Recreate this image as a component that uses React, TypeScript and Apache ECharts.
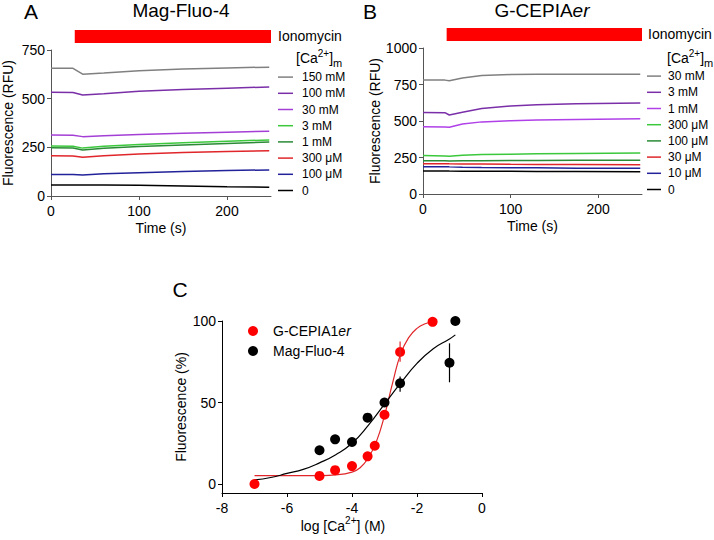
import React, { useEffect, useRef } from 'react';
import * as echarts from 'echarts';

const F = 'Liberation Sans, Arial, Helvetica, sans-serif';

// ---------- Panel A: Mag-Fluo-4 ----------
const aTime = [0, 25, 36, 60, 100, 150, 200, 248];
const aNames = ['150 mM', '100 mM', '30 mM', '3 mM', '1 mM', '300 μM', '100 μM', '0'];
const aColors = ['#808080', '#7A2FA8', '#A43FD6', '#3CC83C', '#2A8A35', '#E0262A', '#22229A', '#000000'];
const a150mM = [656, 656, 626, 632, 643, 652, 658, 662];
const a100mM = [533, 532, 519, 525, 538, 547, 554, 560];
const a30mM = [313, 312, 305, 309, 316, 322, 328, 333];
const a3mM = [257, 256, 246, 255, 264, 273, 281, 288];
const a1mM = [248, 247, 236, 245, 254, 262, 270, 277];
const a300uM = [207, 206, 199, 207, 216, 223, 229, 233];
const a100uM = [111, 110, 108, 114, 120, 126, 131, 134];
const a0 = [57, 57, 56, 56, 55, 51, 47, 45];
const aValues = [a150mM, a100mM, a30mM, a3mM, a1mM, a300uM, a100uM, a0];
const timeTicks = [0, 100, 200];

// ---------- Panel B: G-CEPIAer ----------
const bTime = [0, 25, 30, 45, 67, 100, 130, 175, 248];
const bNames = ['30 mM', '3 mM', '1 mM', '300 μM', '100 μM', '30 μM', '10 μM', '0'];
const bColors = ['#808080', '#7A2FA8', '#B040E8', '#3CC83C', '#2A8A35', '#E0262A', '#22229A', '#000000'];
const b30mM = [781, 780, 776, 795, 812, 818, 820, 820, 821];
const b3mM = [559, 557, 541, 560, 585, 603, 612, 619, 624];
const b1mM = [461, 459, 457, 480, 494, 502, 507, 511, 515];
const b300uM = [263, 261, 258, 266, 270, 273, 275, 277, 280];
const b100uM = [227, 227, 226, 227, 228, 229, 230, 231, 232];
const b30uM = [208, 208, 207, 206, 205, 203, 202, 202, 201];
const b10uM = [187, 187, 186, 184, 182, 180, 179, 177, 176];
const b0 = [158, 158, 157, 156, 155, 155, 154, 154, 153];
const bValues = [b30mM, b3mM, b1mM, b300uM, b100uM, b30uM, b10uM, b0];

const ionomycinStart = 27;
const ionomycinEnd = 250;

// ---------- Panel C: dose response ----------
const cepiaLogCa = [-7, -5, -4.52, -4, -3.52, -3.3, -3, -2.52, -1.52];
const cepiaFluor = [0, 5, 8.5, 11, 17, 23.5, 42.5, 81, 99.5];
const magLogCa = [-5, -4.52, -4, -3.52, -3, -2.52, -1, -0.82];
const magFluor = [20.7, 27.4, 25.8, 40.7, 50, 61.8, 74.4, 100];

const cepiaErrX = [-2.52];
const cepiaErrLow = [75];
const cepiaErrHigh = [87.5];
const magErrX = [-2.52, -1];
const magErrLow = [56.6, 62.4];
const magErrHigh = [66, 86.3];

const cepiaFitX = [-7, -6, -5, -4.5, -4, -3.75, -3.5, -3.25, -3, -2.75, -2.5, -2.25, -2, -1.75, -1.5];
const cepiaFitY = [5.1, 5.1, 5.2, 5.6, 7.3, 10, 16, 26, 42, 62, 80, 90, 95.5, 98.3, 99.4];
const magFitX = [-7, -6.5, -6, -5.5, -5, -4.5, -4, -3.5, -3, -2.5, -2, -1.5, -1, -0.82];
const magFitY = [2.5, 4, 6.5, 9, 13, 18, 25, 36, 49, 62, 74, 83, 89, 91.5];
const percentTicks = [0, 50, 100];

const zip = (xs: number[], ys: number[]) => xs.map((x, i) => [x, ys[i]]);

function axisBase(color: string) {
  return {
    axisLine: { show: true, onZero: false, lineStyle: { color, width: 1 } },
    axisTick: { show: true, length: 4, lineStyle: { color, width: 1 } },
    axisLabel: { color: '#000', fontSize: 14, fontFamily: F },
    splitLine: { show: false },
    nameTextStyle: { color: '#000', fontSize: 14, fontFamily: F },
  };
}

const supRich = {
  n: { fontSize: 14, fontFamily: F, color: '#000', lineHeight: 20 },
  sup: { fontSize: 10, fontFamily: F, color: '#000', verticalAlign: 'top', lineHeight: 12 },
};

export default function App() {
  const ref = useRef<HTMLDivElement>(null);
  useEffect(() => {
    document.body.style.margin = '0';
    const chart = echarts.init(ref.current!, null, { renderer: 'svg' });

    const series: any[] = [];
    aNames.forEach((n, i) => {
      series.push({
        name: 'A|' + n,
        type: 'line',
        xAxisIndex: 0,
        yAxisIndex: 0,
        symbol: 'none',
        color: aColors[i],
        lineStyle: { color: aColors[i], width: 1.5 },
        data: zip(aTime, aValues[i]),
      });
    });
    bNames.forEach((n, i) => {
      series.push({
        name: 'B|' + n,
        type: 'line',
        xAxisIndex: 1,
        yAxisIndex: 1,
        symbol: 'none',
        color: bColors[i],
        lineStyle: { color: bColors[i], width: 1.5 },
        data: zip(bTime, bValues[i]),
      });
    });
    series.push(
      {
        name: 'G-CEPIA1er fit',
        type: 'line',
        xAxisIndex: 2,
        yAxisIndex: 2,
        symbol: 'none',
        smooth: true,
        color: '#E0262A',
        lineStyle: { color: '#E0262A', width: 1.2 },
        data: zip(cepiaFitX, cepiaFitY),
        z: 2,
      },
      {
        name: 'Mag-Fluo-4 fit',
        type: 'line',
        xAxisIndex: 2,
        yAxisIndex: 2,
        symbol: 'none',
        smooth: true,
        color: '#000',
        lineStyle: { color: '#000', width: 1.2 },
        data: zip(magFitX, magFitY),
        z: 2,
      },
      {
        name: 'G-CEPIA1er',
        type: 'scatter',
        xAxisIndex: 2,
        yAxisIndex: 2,
        symbol: 'circle',
        symbolSize: 10,
        color: '#FF0000',
        itemStyle: { color: '#FF0000', opacity: 1 },
        data: zip(cepiaLogCa, cepiaFluor),
        z: 3,
      },
      {
        name: 'Mag-Fluo-4',
        type: 'scatter',
        xAxisIndex: 2,
        yAxisIndex: 2,
        symbol: 'circle',
        symbolSize: 10,
        color: '#000',
        itemStyle: { color: '#000', opacity: 1 },
        data: zip(magLogCa, magFluor),
        z: 3,
      }
    );
    const errSeries = (name: string, xs: number[], lo: number[], hi: number[], color: string) => ({
      name,
      type: 'custom',
      xAxisIndex: 2,
      yAxisIndex: 2,
      z: 4,
      encode: { x: 0, y: [1, 2] },
      data: xs.map((x, i) => [x, lo[i], hi[i]]),
      renderItem: (_p: any, api: any) => {
        const p1 = api.coord([api.value(0), api.value(1)]);
        const p2 = api.coord([api.value(0), api.value(2)]);
        return {
          type: 'line',
          shape: { x1: p1[0], y1: p1[1], x2: p2[0], y2: p2[1] },
          style: { stroke: color, lineWidth: 1.2 },
        };
      },
    });
    series.push(errSeries('cepia err', cepiaErrX, cepiaErrLow, cepiaErrHigh, '#E0262A'));
    series.push(errSeries('mag err', magErrX, magErrLow, magErrHigh, '#000'));

    const lineLegend = (prefix: string, names: string[], left: number, top: number, itemWidth: number, pad: number) => ({
      orient: 'vertical',
      left,
      top,
      padding: 0,
      icon: 'rect',
      itemWidth,
      itemHeight: 1.5,
      itemGap: 0,
      selectedMode: false,
      data: names.map((n) => prefix + n),
      formatter: (name: string) => name.split('|')[1],
      textStyle: { fontSize: 12, fontFamily: F, color: '#000', lineHeight: 16.2, padding: [0, 0, 0, pad] },
    });

    const timeAxis = (gridIndex: number) => ({
      ...axisBase('#555'),
      type: 'value', gridIndex, min: 0, max: 250,
      name: 'Time (s)', nameLocation: 'middle', nameGap: 25,
      axisTick: { show: true, length: 4, customValues: timeTicks, lineStyle: { color: '#555' } },
      axisLabel: { color: '#000', fontSize: 14, fontFamily: F, margin: 8, customValues: timeTicks },
    });

    const option: any = {
      animation: false,
      backgroundColor: '#fff',
      grid: [
        { left: 50, top: 50, width: 221, height: 146 },
        { left: 423, top: 48, width: 219, height: 146 },
        { left: 222, top: 321, width: 260, height: 172 },
      ],
      xAxis: [
        timeAxis(0),
        timeAxis(1),
        {
          ...axisBase('#000'),
          type: 'value', gridIndex: 2, min: -8, max: 0, interval: 2,
          name: '{n|log [Ca}{sup|2+}{n|] (M)}', nameLocation: 'middle', nameGap: 22,
          nameTextStyle: { rich: supRich, padding: [0, 18, 0, 0] },
          axisLabel: { color: '#000', fontSize: 14, fontFamily: F, margin: 8 },
        },
      ],
      yAxis: [
        {
          ...axisBase('#555'),
          type: 'value', gridIndex: 0, min: 0, max: 750, interval: 250,
          name: 'Fluorescence (RFU)', nameLocation: 'middle', nameGap: 36,
          axisLabel: { color: '#000', fontSize: 14, fontFamily: F, margin: 6, formatter: (v: number) => String(v) },
        },
        {
          ...axisBase('#555'),
          type: 'value', gridIndex: 1, min: 0, max: 1000, interval: 250,
          name: 'Fluorescence (RFU)', nameLocation: 'middle', nameGap: 41,
          axisLabel: { color: '#000', fontSize: 14, fontFamily: F, margin: 6, formatter: (v: number) => String(v) },
        },
        {
          ...axisBase('#000'),
          type: 'value', gridIndex: 2, min: -5.5, max: 100,
          name: 'Fluorescence (%)', nameLocation: 'middle', nameGap: 34,
          axisTick: { show: true, length: 4, customValues: percentTicks, lineStyle: { color: '#000' } },
          axisLabel: { color: '#000', fontSize: 14, fontFamily: F, margin: 6, customValues: percentTicks },
        },
      ],
      legend: [
        lineLegend('A|', aNames, 278, 69, 15, 4),
        lineLegend('B|', bNames, 647, 68, 14, 2),
        {
          orient: 'vertical',
          left: 248,
          top: 321,
          padding: 0,
          icon: 'circle',
          itemWidth: 10,
          itemHeight: 10,
          itemGap: 0,
          selectedMode: false,
          data: ['G-CEPIA1er', 'Mag-Fluo-4'],
          formatter: (name: string) =>
            name === 'G-CEPIA1er' ? '{n|G-CEPIA1}{i|er}' : '{n|' + name + '}',
          textStyle: {
            fontSize: 14, fontFamily: F, color: '#000', lineHeight: 20, padding: [0, 0, 0, 10],
            rich: {
              n: { fontSize: 14, fontFamily: F, color: '#000', lineHeight: 20 },
              i: { fontSize: 14, fontFamily: F, color: '#000', fontStyle: 'italic', lineHeight: 20 },
            },
          },
        },
      ],
      series,
    };
    chart.setOption(option);

    const pA0 = chart.convertToPixel({ gridIndex: 0 } as any, [ionomycinStart, 0]) as number[];
    const pA1 = chart.convertToPixel({ gridIndex: 0 } as any, [ionomycinEnd, 0]) as number[];
    const pB0 = chart.convertToPixel({ gridIndex: 1 } as any, [ionomycinStart, 0]) as number[];
    const pB1 = chart.convertToPixel({ gridIndex: 1 } as any, [ionomycinEnd, 0]) as number[];

    const txt = (text: string, x: number, y: number, size: number, align = 'center') => ({
      type: 'text',
      x,
      y,
      style: { text, fontSize: size, fontFamily: F, fill: '#000', align, verticalAlign: 'middle' },
    });
    const caLabel = (x: number, y: number) => ({
      type: 'text',
      x,
      y,
      style: {
        text: '{n|[Ca}{sup|2+}{n|]}{sub|m}',
        align: 'left',
        verticalAlign: 'middle',
        rich: {
          n: { fontSize: 14, fontFamily: F, fill: '#000', lineHeight: 20 },
          sup: { fontSize: 10, fontFamily: F, fill: '#000', verticalAlign: 'top', lineHeight: 12 },
          sub: { fontSize: 11, fontFamily: F, fill: '#000', verticalAlign: 'bottom', lineHeight: 12 },
        },
      },
    });

    chart.setOption({
      graphic: [
        { type: 'rect', shape: { x: pA0[0], y: 30, width: pA1[0] - pA0[0], height: 13 }, style: { fill: '#FF0000' } },
        { type: 'rect', shape: { x: pB0[0], y: 28, width: pB1[0] - pB0[0], height: 13 }, style: { fill: '#FF0000' } },
        txt('A', 31, 11, 21),
        txt('Mag-Fluo-4', 181, 10, 19),
        txt('B', 370, 11, 21),
        {
          type: 'text',
          x: 542,
          y: 10,
          style: {
            text: '{n|G-CEPIA}{i|er}',
            align: 'center',
            verticalAlign: 'middle',
            rich: {
              n: { fontSize: 19, fontFamily: F, fill: '#000' },
              i: { fontSize: 19, fontFamily: F, fill: '#000', fontStyle: 'italic' },
            },
          },
        },
        txt('Ionomycin', 278, 36, 14, 'left'),
        txt('Ionomycin', 648, 34, 14, 'left'),
        caLabel(296, 58),
        caLabel(667, 58),
        txt('C', 180, 289, 21),
      ],
    });

    return () => chart.dispose();
  }, []);
  return <div ref={ref} style={{ width: 714, height: 540 }} />;
}
